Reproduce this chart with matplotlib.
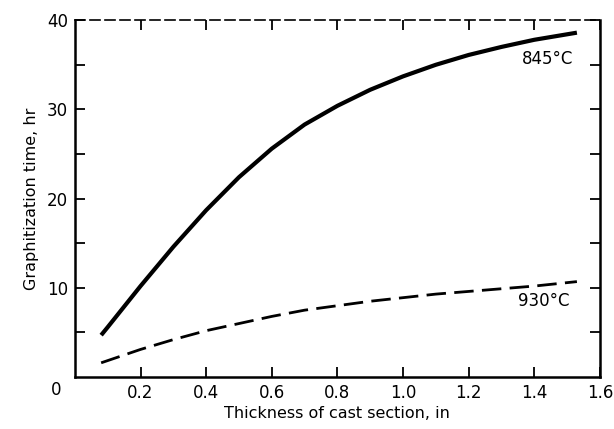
import matplotlib
matplotlib.use("Agg")
import matplotlib.pyplot as plt

x_845 = [0.08, 0.1, 0.2, 0.3, 0.4, 0.5, 0.6, 0.7, 0.8, 0.9, 1.0, 1.1, 1.2, 1.3, 1.4, 1.53]
y_845 = [4.7, 5.6, 10.2, 14.6, 18.7, 22.4, 25.6, 28.3, 30.4, 32.2, 33.7, 35.0, 36.1, 37.0, 37.8, 38.6]
x_930 = [0.08, 0.2, 0.3, 0.4, 0.5, 0.6, 0.7, 0.8, 0.9, 1.0, 1.1, 1.2, 1.3, 1.4, 1.53]
y_930 = [1.6, 3.1, 4.2, 5.2, 6.0, 6.8, 7.5, 8.0, 8.5, 8.9, 9.3, 9.6, 9.9, 10.2, 10.7]

x_ticks = [0.2, 0.4, 0.6, 0.8, 1.0, 1.2, 1.4, 1.6]
x_tick_labels = ["0.2", "0.4", "0.6", "0.8", "1.0", "1.2", "1.4", "1.6"]
y_ticks = [10, 20, 30, 40]
y_tick_labels = ["10", "20", "30", "40"]

fig = plt.figure(figsize=(6.14, 4.29), dpi=100)
ax = fig.add_axes([0.122, 0.121, 0.855, 0.832])

ax.plot(x_845, y_845, color="black", lw=3.0, solid_capstyle="butt", solid_joinstyle="round")
ax.plot(x_930, y_930, color="black", lw=2.0, dashes=(7, 3))

ax.text(1.44, 35.6, "845°C", fontsize=12, ha="center", va="center")
ax.text(1.43, 8.5, "930°C", fontsize=12, ha="center", va="center")

ax.set_xlim(0, 1.6)
ax.set_ylim(0, 40)
ax.set_xticks(x_ticks)
ax.set_xticklabels(x_tick_labels, fontsize=12)
ax.set_yticks(y_ticks)
ax.set_yticklabels(y_tick_labels, fontsize=12)
ax.set_yticks([5, 15, 25, 35], minor=True)
ax.tick_params(axis="both", which="both", direction="in", top=True, right=True,
               length=7, width=1.3, pad=5)
ax.tick_params(axis="y", which="minor", length=7)
ax.text(-0.04, -0.4, "0", fontsize=12, ha="right", va="top", transform=ax.transData)

for side in ["left", "right", "bottom"]:
    ax.spines[side].set_linewidth(1.8)
ax.spines["top"].set_linewidth(1.2)
ax.spines["top"].set_linestyle((0, (6, 3)))

ax.set_xlabel("Thickness of cast section, in", fontsize=11.5, labelpad=3)
ax.set_ylabel("Graphitization time, hr", fontsize=11.5, labelpad=6)

fig.savefig("out.png", dpi=100)
